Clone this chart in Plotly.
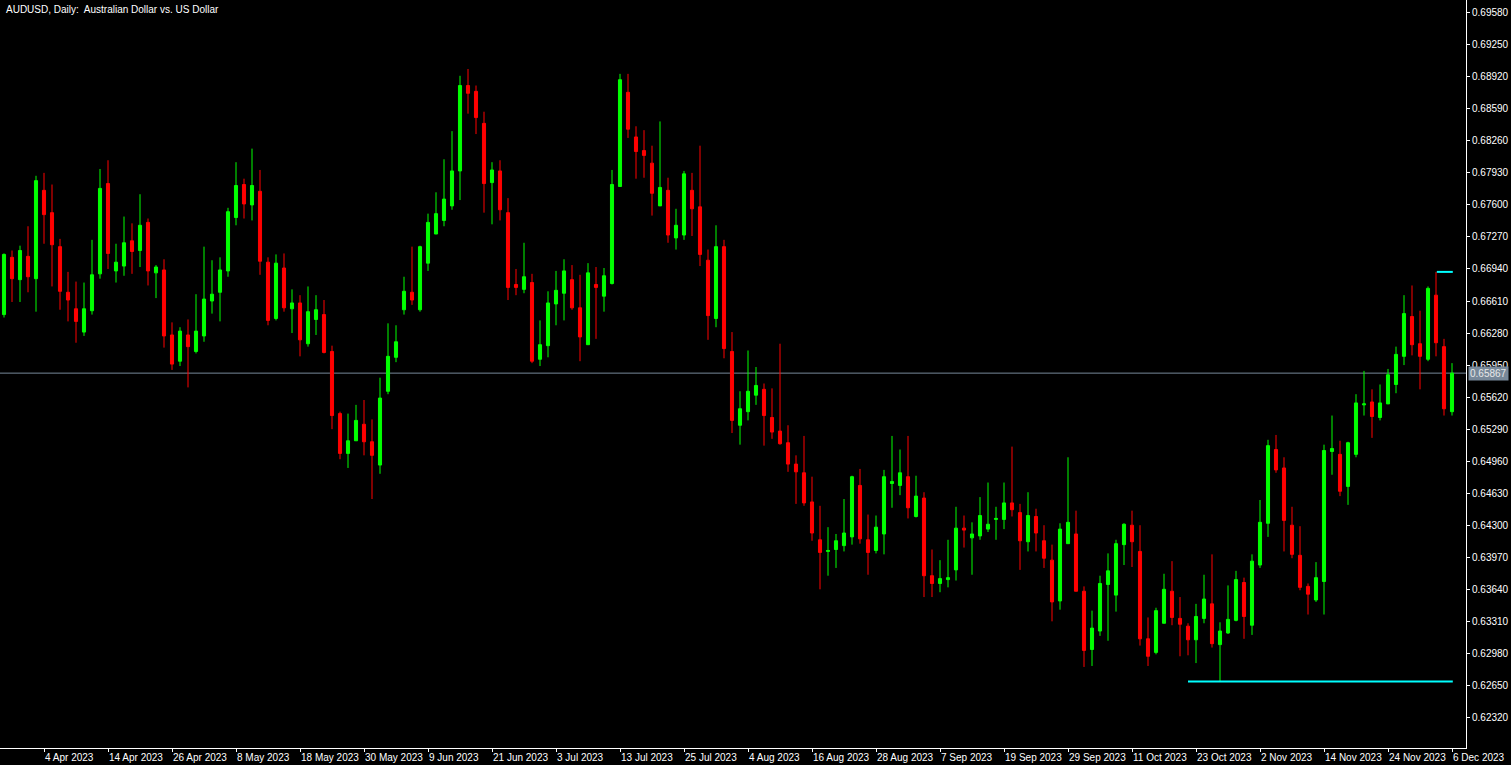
import pandas as pd
import plotly.graph_objects as go

symbol_title = "AUDUSD, Daily:  Australian Dollar vs. US Dollar"
first_date = "2023-03-28"

opens = [0.6647,0.6706,0.6683,0.6707,0.6684,0.6775,0.6752,0.6717,0.6670,0.6653,
         0.6629,0.6651,0.6689,0.6782,0.6692,0.6697,0.6723,0.6713,0.6742,0.6690,
         0.6693,0.6626,0.6599,0.6626,0.6609,0.6625,0.6661,0.6670,0.6692,0.6747,
         0.6781,0.6760,0.6774,0.6701,0.6643,0.6695,0.6653,0.6659,0.6617,0.6642,
         0.6647,0.6609,0.6545,0.6504,0.6517,0.6534,0.6516,0.6492,0.6568,0.6603,
         0.6652,0.6670,0.6652,0.6700,0.6730,0.6744,0.6759,0.6795,0.6883,0.6877,
         0.6844,0.6783,0.6795,0.6752,0.6678,0.6673,0.6680,0.6601,0.6615,0.6658,
         0.6669,0.6683,0.6654,0.6616,0.6678,0.6666,0.6679,0.6779,0.6876,0.6830,
         0.6816,0.6803,0.6759,0.6775,0.6726,0.6729,0.6775,0.6758,0.6703,0.6643,
         0.6717,0.6609,0.6533,0.6547,0.6564,0.6570,0.6541,0.6527,0.6515,0.6493,
         0.6484,0.6454,0.6415,0.6403,0.6405,0.6409,0.6418,0.6471,0.6415,0.6404,
         0.6421,0.6473,0.6471,0.6480,0.6439,0.6458,0.6378,0.6370,0.6374,0.6384,
         0.6427,0.6417,0.6419,0.6426,0.6436,0.6436,0.6453,0.6443,0.6413,0.6439,
         0.6414,0.6394,0.6352,0.6411,0.6421,0.6362,0.6302,0.6321,0.6369,0.6358,
         0.6410,0.6430,0.6403,0.6313,0.6299,0.6329,0.6362,0.6334,0.6326,0.6312,
         0.6334,0.6349,0.6307,0.6319,0.6332,0.6371,0.6327,0.6389,0.6432,0.6508,
         0.6489,0.6430,0.6399,0.6367,0.6353,0.6372,0.6506,0.6503,0.6470,0.6503,
         0.6554,0.6557,0.6541,0.6555,0.6575,0.6604,0.6645,0.6617,0.6601,0.6667,
         0.6614,0.6547]
highs = [0.6710,0.6713,0.6718,0.6738,0.6790,0.6793,0.6781,0.6725,0.6691,0.6681,
         0.6680,0.6724,0.6797,0.6806,0.6720,0.6748,0.6741,0.6771,0.6746,0.6698,
         0.6704,0.6639,0.6634,0.6642,0.6668,0.6717,0.6703,0.6706,0.6757,0.6804,
         0.6787,0.6818,0.6796,0.6706,0.6709,0.6710,0.6673,0.6667,0.6676,0.6667,
         0.6662,0.6615,0.6547,0.6545,0.6554,0.6559,0.6539,0.6582,0.6638,0.6636,
         0.6686,0.6717,0.6718,0.6751,0.6773,0.6807,0.6836,0.6893,0.6900,0.6883,
         0.6856,0.6804,0.6806,0.6767,0.6694,0.6721,0.6689,0.6641,0.6671,0.6692,
         0.6704,0.6698,0.6688,0.6700,0.6696,0.6695,0.6796,0.6895,0.6895,0.6841,
         0.6837,0.6821,0.6846,0.6788,0.6756,0.6795,0.6793,0.6821,0.6714,0.6739,
         0.6724,0.6629,0.6568,0.6610,0.6593,0.6576,0.6571,0.6617,0.6533,0.6502,
         0.6522,0.6480,0.6450,0.6428,0.6421,0.6457,0.6481,0.6488,0.6441,0.6440,
         0.6487,0.6522,0.6508,0.6522,0.6481,0.6464,0.6405,0.6394,0.6415,0.6449,
         0.6440,0.6433,0.6459,0.6474,0.6449,0.6474,0.6511,0.6452,0.6464,0.6447,
         0.6430,0.6410,0.6432,0.6500,0.6445,0.6367,0.6342,0.6378,0.6401,0.6415,
         0.6432,0.6445,0.6430,0.6335,0.6345,0.6380,0.6393,0.6356,0.6329,0.6349,
         0.6379,0.6400,0.6330,0.6368,0.6383,0.6376,0.6400,0.6456,0.6518,0.6523,
         0.6500,0.6449,0.6429,0.6370,0.6392,0.6513,0.6543,0.6517,0.6516,0.6565,
         0.6589,0.6570,0.6575,0.6591,0.6614,0.6667,0.6677,0.6651,0.6676,0.6691,
         0.6622,0.6597]
lows = [0.6644,0.6660,0.6660,0.6670,0.6650,0.6720,0.6676,0.6652,0.6640,0.6618,
        0.6625,0.6647,0.6684,0.6694,0.6680,0.6687,0.6689,0.6696,0.6677,0.6664,
        0.6613,0.6590,0.6594,0.6572,0.6607,0.6619,0.6648,0.6640,0.6686,0.6739,
        0.6746,0.6744,0.6688,0.6636,0.6641,0.6650,0.6628,0.6604,0.6614,0.6626,
        0.6607,0.6529,0.6498,0.6489,0.6517,0.6502,0.6457,0.6483,0.6565,0.6598,
        0.6647,0.6657,0.6650,0.6692,0.6730,0.6738,0.6755,0.6765,0.6854,0.6833,
        0.6752,0.6740,0.6744,0.6662,0.6667,0.6669,0.6597,0.6594,0.6603,0.6636,
        0.6641,0.6652,0.6599,0.6616,0.6622,0.6650,0.6678,0.6779,0.6829,0.6787,
        0.6788,0.6749,0.6759,0.6721,0.6714,0.6724,0.6728,0.6697,0.6621,0.6634,
        0.6602,0.6525,0.6513,0.6538,0.6554,0.6512,0.6519,0.6513,0.6485,0.6452,
        0.6450,0.6414,0.6364,0.6378,0.6386,0.6403,0.6410,0.6411,0.6379,0.6401,
        0.6400,0.6448,0.6461,0.6437,0.6438,0.6356,0.6356,0.6361,0.6366,0.6373,
        0.6407,0.6379,0.6415,0.6423,0.6415,0.6426,0.6439,0.6384,0.6403,0.6403,
        0.6386,0.6331,0.6343,0.6411,0.6362,0.6284,0.6285,0.6316,0.6311,0.6341,
        0.6389,0.6387,0.6306,0.6285,0.6297,0.6329,0.6327,0.6295,0.6296,0.6288,
        0.6329,0.6304,0.6269,0.6318,0.6331,0.6313,0.6317,0.6386,0.6418,0.6484,
        0.6403,0.6396,0.6363,0.6338,0.6351,0.6338,0.6482,0.6460,0.6451,0.6500,
        0.6543,0.6520,0.6538,0.6555,0.6566,0.6595,0.6605,0.6570,0.6599,0.6604,
        0.6543,0.6543]
closes = [0.6709,0.6684,0.6713,0.6686,0.6785,0.6750,0.6719,0.6671,0.6662,0.6640,
          0.6653,0.6688,0.6777,0.6710,0.6701,0.6721,0.6712,0.6739,0.6692,0.6696,
          0.6625,0.6596,0.6630,0.6614,0.6630,0.6663,0.6668,0.6693,0.6753,0.6780,
          0.6761,0.6780,0.6702,0.6641,0.6700,0.6654,0.6659,0.6621,0.6650,0.6652,
          0.6608,0.6543,0.6504,0.6517,0.6538,0.6516,0.6502,0.6561,0.6604,0.6619,
          0.6671,0.6662,0.6717,0.6742,0.6751,0.6766,0.6795,0.6883,0.6875,0.6850,
          0.6782,0.6796,0.6755,0.6675,0.6675,0.6686,0.6599,0.6616,0.6659,0.6672,
          0.6692,0.6654,0.6624,0.6690,0.6675,0.6687,0.6781,0.6889,0.6838,0.6815,
          0.6811,0.6772,0.6778,0.6729,0.6739,0.6792,0.6756,0.6709,0.6646,0.6717,
          0.6612,0.6538,0.6550,0.6568,0.6574,0.6543,0.6526,0.6514,0.6493,0.6485,
          0.6453,0.6422,0.6402,0.6404,0.6414,0.6422,0.6480,0.6416,0.6402,0.6428,
          0.6480,0.6475,0.6484,0.6448,0.6460,0.6378,0.6370,0.6375,0.6376,0.6427,
          0.6425,0.6421,0.6440,0.6431,0.6437,0.6453,0.6446,0.6414,0.6440,0.6422,
          0.6396,0.6351,0.6426,0.6433,0.6362,0.6301,0.6324,0.6370,0.6383,0.6411,
          0.6431,0.6413,0.6313,0.6295,0.6342,0.6364,0.6335,0.6328,0.6312,0.6336,
          0.6354,0.6308,0.6321,0.6333,0.6374,0.6336,0.6393,0.6433,0.6512,0.6487,
          0.6435,0.6400,0.6366,0.6359,0.6376,0.6507,0.6509,0.6465,0.6515,0.6556,
          0.6555,0.6542,0.6556,0.6585,0.6606,0.6648,0.6616,0.6604,0.6674,0.6618,
          0.6550,0.65867]

current_price = 0.65867
support_level = 0.6269       # cyan line at the October low
resistance_level = 0.6691    # short cyan line at the recent high
support_start_bar = 148
resistance_start_bar = 179

price_ticks = [0.62320, 0.62650, 0.62980, 0.63310, 0.63640, 0.63970, 0.64300, 0.64630,
               0.64960, 0.65290, 0.65620, 0.65950, 0.66280, 0.66610, 0.66940, 0.67270,
               0.67600, 0.67930, 0.68260, 0.68590, 0.68920, 0.69250, 0.69580]

n = len(closes)
bars = list(range(n))
dates = pd.bdate_range(first_date, periods=n)
label_bars = list(range(5, n, 8))
label_text = [f"{dates[i].day} {dates[i].strftime('%b %Y')}" for i in label_bars]

FONT = "Tahoma, 'Liberation Sans', Arial, sans-serif"

fig = go.Figure()
fig.add_trace(go.Candlestick(
    x=bars, open=opens, high=highs, low=lows, close=closes,
    increasing=dict(line=dict(color="#00FF00", width=1), fillcolor="#00FF00"),
    decreasing=dict(line=dict(color="#FF0000", width=1), fillcolor="#FF0000"),
    whiskerwidth=0, showlegend=False, hoverinfo="skip",
))

last = n - 1
fig.add_shape(type="line", xref="paper", x0=0, x1=1, yref="y",
              y0=current_price, y1=current_price,
              line=dict(color="#778899", width=1), layer="below")
fig.add_shape(type="line", xref="x", x0=support_start_bar, x1=last + 0.1, yref="y",
              y0=support_level, y1=support_level, line=dict(color="#00FFFF", width=2))
fig.add_shape(type="line", xref="x", x0=resistance_start_bar + 0.1, x1=last + 0.1, yref="y",
              y0=resistance_level, y1=resistance_level, line=dict(color="#00FFFF", width=2))

fig.add_annotation(xref="paper", x=1, yref="y", y=current_price, xanchor="left",
                   yanchor="middle", text=f"{current_price:.5f}", showarrow=False,
                   bgcolor="#778899", font=dict(family=FONT, size=10, color="#E8E8E8"),
                   borderpad=1, xshift=2)
fig.add_annotation(xref="paper", x=0, yref="paper", y=1, xanchor="left", yanchor="top",
                   text=symbol_title, showarrow=False, xshift=4, yshift=-2,
                   font=dict(family=FONT, size=10, color="#FFFFFF"))

fig.update_layout(
    width=1511, height=765,
    margin=dict(l=0, r=45, t=0, b=17),
    paper_bgcolor="#000000", plot_bgcolor="#000000",
    boxgap=0.45,
    showlegend=False,
    xaxis=dict(range=[-0.5, 182.75], rangeslider=dict(visible=False),
               tickmode="array", tickvals=label_bars, ticktext=label_text,
               ticklabelposition="outside right", tickangle=0, automargin=False,
               showgrid=False, zeroline=False, showline=True, linecolor="#FFFFFF",
               linewidth=1, ticks="outside", ticklen=3, tickcolor="#FFFFFF",
               tickfont=dict(family=FONT, size=10, color="#FFFFFF")),
    yaxis=dict(range=[0.62005, 0.69711], side="right", automargin=False,
               tickmode="array", tickvals=price_ticks,
               ticktext=[f"{v:.5f}" for v in price_ticks],
               showgrid=False, zeroline=False, showline=True, linecolor="#FFFFFF",
               linewidth=1, ticks="outside", ticklen=3, tickcolor="#FFFFFF",
               tickfont=dict(family=FONT, size=10, color="#FFFFFF")),
)

fig.write_html("out.html", config={"displayModeBar": False},
               post_script="document.body.style.margin='0';document.body.style.background='black';")
